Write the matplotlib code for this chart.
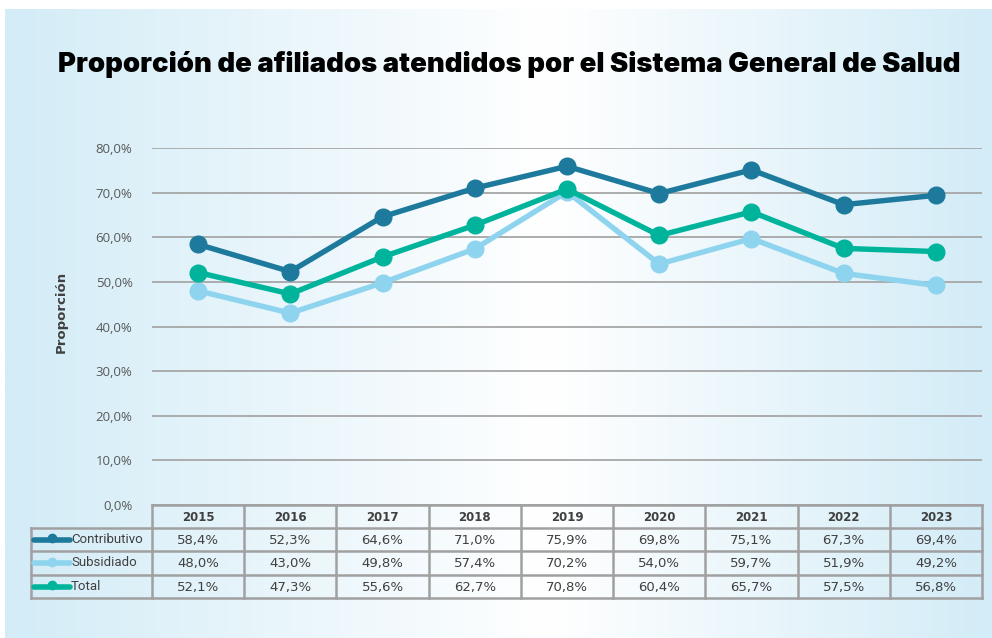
import numpy as np
import matplotlib
matplotlib.use('Agg')
import matplotlib.pyplot as plt
from matplotlib.colors import LinearSegmentedColormap
from matplotlib.transforms import blended_transform_factory

# ---------------- data ----------------
years = ['2015', '2016', '2017', '2018', '2019', '2020', '2021', '2022', '2023']
contributivo = [58.4, 52.3, 64.6, 71.0, 75.9, 69.8, 75.1, 67.3, 69.4]
subsidiado = [48.0, 43.0, 49.8, 57.4, 70.2, 54.0, 59.7, 51.9, 49.2]
total = [52.1, 47.3, 55.6, 62.7, 70.8, 60.4, 65.7, 57.5, 56.8]
series_names = ['Contributivo', 'Subsidiado', 'Total']
series_values = [contributivo, subsidiado, total]
series_colors = ['#1d7a9c', '#8fd4ef', '#00b49c']
yticks = [0, 10, 20, 30, 40, 50, 60, 70, 80]
title = 'Proporción de afiliados atendidos por el Sistema General de Salud'
ylabel = 'Proporción'

W, H = 992, 638
fig = plt.figure(figsize=(W / 100, H / 100), dpi=100)
fig.patch.set_facecolor('white')


def fx(px):
    return px / W


def fy(py):
    return 1 - py / H


# gradient background panel
bg = fig.add_axes([fx(5), 0, 1 - fx(5), fy(9)])
grad = np.linspace(0, 1, 600)
cmap = LinearSegmentedColormap.from_list(
    'bg', [(0, '#d3ecf7'), (0.55, '#ffffff'), (1, '#d3ecf7')])
bg.imshow(grad[None, :], aspect='auto', cmap=cmap, extent=[0, 1, 0, 1])
bg.axis('off')

# main axes
ax = fig.add_axes([fx(152), fy(505), fx(982) - fx(152), fy(148) - fy(505)])
ax.set_facecolor('none')
x = np.arange(len(years))
ax.set_xlim(-0.5, len(years) - 0.5)
ax.set_ylim(0, 80)
ax.set_yticks(yticks)
ax.set_yticklabels([f'{v:.1f}%'.replace('.', ',') for v in yticks],
                   fontfamily='Open Sans', fontsize=9.5, color='#595959')
ax.tick_params(axis='y', length=0, pad=14)
ax.set_xticks([])
ax.grid(axis='y', color='#a6a6a6', lw=1.3)
ax.set_axisbelow(True)
for s in ax.spines.values():
    s.set_visible(False)

for vals, c in zip(series_values, series_colors):
    ax.plot(x, vals, color=c, lw=3.9, marker='o', ms=12, clip_on=False,
            solid_capstyle='round', solid_joinstyle='round')

# ---------------- data table ----------------
tr = blended_transform_factory(ax.transData, fig.transFigure)
colw = (982 - 152) / len(years)
xl = -0.5 - (152 - 31) / colw
xr = len(years) - 0.5
row_px = [505, 528, 551, 575, 598]
gcol = '#a0a0a0'
glw = 1.8

ax.plot([-0.5, xr], [fy(row_px[0])] * 2, color=gcol, lw=glw, transform=tr, clip_on=False)
for py in row_px[1:]:
    ax.plot([xl, xr], [fy(py)] * 2, color=gcol, lw=glw, transform=tr, clip_on=False)
ax.plot([xl, xl], [fy(row_px[1]), fy(row_px[-1])], color=gcol, lw=glw, transform=tr, clip_on=False)
for k in range(len(years) + 1):
    xv = -0.5 + k
    ax.plot([xv, xv], [fy(row_px[0]), fy(row_px[-1])], color=gcol, lw=glw,
            transform=tr, clip_on=False)

for i, yr in enumerate(years):
    ax.text(i, fy((row_px[0] + row_px[1]) / 2 + 1), yr, transform=tr, ha='center',
            va='center', fontsize=8.5, fontweight='bold', color='#404040',
            fontfamily='DejaVu Sans')

for r, (name, vals, c) in enumerate(zip(series_names, series_values, series_colors)):
    yc = (row_px[r + 1] + row_px[r + 2]) / 2
    for i, v in enumerate(vals):
        ax.text(i, fy(yc + 1), f'{v:.1f}%'.replace('.', ','), transform=tr,
                ha='center', va='center', fontsize=9.5, color='#404040',
                fontfamily='DejaVu Sans')
    x0 = xl + (34 - 31) / colw
    x1 = xl + (70 - 31) / colw
    ax.plot([x0, x1], [fy(yc)] * 2, color=c, lw=4, transform=tr, clip_on=False,
            solid_capstyle='round')
    ax.plot([(x0 + x1) / 2], [fy(yc - 1.5)], color=c, marker='o', ms=6,
            transform=tr, clip_on=False)
    ax.text(xl + (71 - 31) / colw, fy(yc), name, transform=tr, ha='left',
            va='center', fontsize=9.5, color='#404040', fontfamily='Roboto')

# y label
fig.text(fx(61), fy(312), ylabel, rotation=90, ha='center', va='center',
         fontsize=9.5, fontweight='bold', color='#404040', fontfamily='DejaVu Sans')

# title, scaled to the reference width
t = fig.text(fx(509), fy(64), title, ha='center', va='center',
             fontsize=20, fontweight='black', color='#000000', fontfamily='Inter')
fig.canvas.draw()
wpx = t.get_window_extent().width
t.set_fontsize(20 * 902 / wpx)

fig.savefig('out.png', dpi=100)
